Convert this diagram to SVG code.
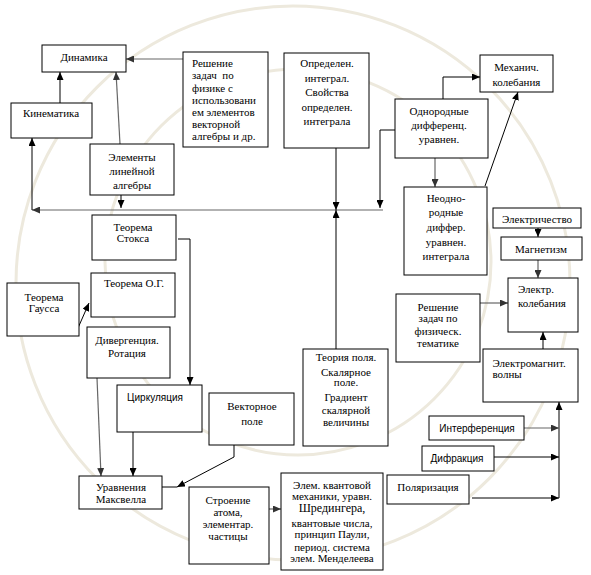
<svg xmlns="http://www.w3.org/2000/svg" width="591" height="575" viewBox="0 0 591 575" font-family="'Liberation Serif', 'Times New Roman', serif">
<defs>
<marker id="ah" markerUnits="userSpaceOnUse" markerWidth="8" markerHeight="7" refX="8" refY="3.5" orient="auto"><path d="M0,0 L8,3.5 L0,7 z" fill="#000"/></marker>
<marker id="ahg" markerUnits="userSpaceOnUse" markerWidth="8" markerHeight="7" refX="8" refY="3.5" orient="auto"><path d="M0,0 L8,3.5 L0,7 z" fill="#333"/></marker>
<style>
.bg{fill:none;stroke:#ede9dd;stroke-width:3}
.box{fill:#fff;stroke:#000;stroke-width:1}
.t{font-size:11px;fill:#000;text-anchor:middle}
.tl{font-size:11px;fill:#000}
.s{font-family:'Liberation Sans',Arial,sans-serif;font-size:10px;fill:#000;text-anchor:middle}
.c{fill:none;stroke:#000;stroke-width:1}
.g{fill:none;stroke:#666;stroke-width:1.2}
</style>
</defs>
<rect width="591" height="575" fill="#fff"/>
<g id="watermark">
<circle class="bg" cx="293" cy="283" r="277"/>
<circle class="bg" cx="298" cy="262" r="193"/>
</g>
<g id="connectors">
<line class="c" x1="60" y1="103" x2="60" y2="72" marker-end="url(#ah)"/>
<line class="g" x1="120" y1="144" x2="116" y2="72" marker-end="url(#ahg)"/>
<line class="g" x1="183" y1="59" x2="126" y2="59" marker-end="url(#ahg)"/>
<line class="c" x1="121" y1="195" x2="121" y2="208" marker-end="url(#ah)"/>
<line class="g" x1="383" y1="210" x2="32" y2="210" marker-end="url(#ahg)"/>
<line class="c" x1="32" y1="210" x2="32" y2="138" marker-end="url(#ah)"/>
<line class="c" x1="336" y1="148" x2="336" y2="210" marker-end="url(#ah)"/>
<line class="c" x1="336" y1="349" x2="336" y2="210" marker-end="url(#ah)"/>
<polyline class="c" points="395,130 380,130 380,208" marker-end="url(#ah)"/>
<polyline class="c" points="443,99 443,77 480,77" marker-end="url(#ah)"/>
<line class="g" x1="435" y1="158" x2="435" y2="187" marker-end="url(#ahg)"/>
<line class="c" x1="485" y1="186" x2="518" y2="92" marker-end="url(#ah)"/>
<line class="c" x1="538" y1="228" x2="538" y2="237" marker-end="url(#ah)"/>
<line class="g" x1="538" y1="260" x2="538" y2="278" marker-end="url(#ahg)"/>
<line class="g" x1="480" y1="303" x2="508" y2="303" marker-end="url(#ahg)"/>
<line class="c" x1="543" y1="349" x2="543" y2="332" marker-end="url(#ah)"/>
<line class="c" x1="559" y1="498" x2="559" y2="402" marker-end="url(#ah)"/>
<line class="g" x1="524" y1="428" x2="559" y2="428" marker-end="url(#ahg)"/>
<line class="c" x1="494" y1="457" x2="559" y2="457" marker-end="url(#ah)"/>
<line class="c" x1="472" y1="498" x2="559" y2="498" marker-end="url(#ah)"/>
<polyline class="c" points="178,239 190,239 190,385" marker-end="url(#ah)"/>
<line class="c" x1="78" y1="328" x2="89" y2="303" marker-end="url(#ah)"/>
<line class="g" x1="97" y1="378" x2="101" y2="476" marker-end="url(#ahg)"/>
<line class="c" x1="133" y1="432" x2="133" y2="476" marker-end="url(#ah)"/>
<polyline class="c" points="234,445 234,457 177,487" marker-end="url(#ah)"/>
<line class="c" x1="162" y1="487" x2="177" y2="487"/>
<line class="g" x1="269" y1="509" x2="281" y2="509" marker-end="url(#ahg)"/>
</g>
<g id="dinamika"><rect class="box" x="42" y="45" width="84" height="27"/><text class="t" x="84" y="60.5">Динамика</text></g>
<g id="kinematika"><rect class="box" x="11" y="103" width="81" height="35"/><text class="t" x="51" y="117">Кинематика</text></g>
<g id="elementy"><rect class="box" x="90" y="144" width="84" height="51"/><text class="t" x="132" y="161">Элементы</text><text class="t" x="132" y="174.5">линейной</text><text class="t" x="132" y="188.5">алгебры</text></g>
<g id="reshenie1"><rect class="box" x="183" y="52" width="85" height="95"/>
<text class="tl" x="192" y="67">Решение</text><text class="tl" x="192" y="79" xml:space="preserve">задач  по</text><text class="tl" x="192" y="91.5">физике с</text><text class="tl" x="192" y="104">использовани</text><text class="tl" x="192" y="116">ем элементов</text><text class="tl" x="192" y="128">векторной</text><text class="tl" x="192" y="140">алгебры и др.</text></g>
<g id="opredelen"><rect class="box" x="284" y="53" width="85" height="95"/>
<text class="t" x="327" y="67">Определен.</text><text class="t" x="327" y="82">интеграл.</text><text class="t" x="327" y="96">Свойства</text><text class="t" x="327" y="111">определен.</text><text class="t" x="327" y="125">интеграла</text></g>
<g id="mehanich"><rect class="box" x="480" y="55" width="73" height="37"/><text class="t" x="516.5" y="70.5">Механич.</text><text class="t" x="516.5" y="85.5">колебания</text></g>
<g id="odnorodnye"><rect class="box" x="395" y="99" width="93" height="59"/><text class="t" x="439" y="114.5">Однородные</text><text class="t" x="439" y="129">дифференц.</text><text class="t" x="439" y="143">уравнен.</text></g>
<g id="neodno"><rect class="box" x="404" y="187" width="83" height="88"/><text class="t" x="446" y="202">Неодно-</text><text class="t" x="446" y="216">родные</text><text class="t" x="446" y="230.5">диффер.</text><text class="t" x="446" y="245.5">уравнен.</text><text class="t" x="446" y="260">интеграла</text></g>
<g id="elektrichestvo"><rect class="box" x="493" y="208" width="88" height="20"/><text class="t" x="537" y="222.5">Электричество</text></g>
<g id="magnetizm"><rect class="box" x="501" y="237" width="81" height="23"/><text class="t" x="541" y="253">Магнетизм</text></g>
<g id="elektr-kolebania"><rect class="box" x="508" y="278" width="70" height="54"/><text class="tl" x="518" y="293">Электр.</text><text class="tl" x="518" y="307">колебания</text></g>
<g id="reshenie2"><rect class="box" x="396" y="294" width="84" height="68"/><text class="t" x="438" y="310.5">Решение</text><text class="t" x="438" y="322">задач по</text><text class="t" x="438" y="335">физическ.</text><text class="t" x="438" y="347">тематике</text></g>
<g id="elektromagnit"><rect class="box" x="483" y="349" width="95" height="53"/><text class="tl" x="492.5" y="366.5">Электромагнит.</text><text class="tl" x="492.5" y="378">волны</text></g>
<g id="interferencia"><rect class="box" x="429" y="416" width="95" height="24"/><text class="s" x="477" y="432">Интерференция</text></g>
<g id="difrakcia"><rect class="box" x="422" y="446" width="72" height="25"/><text class="s" x="457" y="461.5">Дифракция</text></g>
<g id="polarizacia"><rect class="box" x="387" y="475" width="82" height="29"/><text class="t" x="428" y="490.5">Поляризация</text></g>
<g id="kvant"><rect class="box" x="281" y="473" width="102" height="97"/>
<text class="t" x="332" y="489">Элем. квантовой</text><text class="t" x="332" y="500">механики, уравн.</text><text class="t" x="332" y="511.5" style="font-size:12px">Шредингера,</text><text class="t" x="332" y="526.5">квантовые числа,</text><text class="t" x="332" y="538">принцип Паули,</text><text class="t" x="332" y="550.5">период. система</text><text class="t" x="332" y="562">элем. Менделеева</text></g>
<g id="teoria-polya"><rect class="box" x="303" y="349" width="85" height="97"/>
<text class="t" x="346" y="360.5">Теория поля.</text><text class="t" x="346" y="375.5">Скалярное</text><text class="t" x="346" y="386">поле.</text><text class="t" x="346" y="400.5">Градиент</text><text class="t" x="346" y="414">скалярной</text><text class="t" x="346" y="425.5">величины</text></g>
<g id="stoksa"><rect class="box" x="92" y="215" width="84" height="45"/><text class="t" x="133" y="230.5">Теорема</text><text class="t" x="133" y="242">Стокса</text></g>
<g id="og"><rect class="box" x="91" y="273" width="84" height="44"/><text class="t" x="134" y="286.5">Теорема О.Г.</text></g>
<g id="gaussa"><rect class="box" x="7" y="283" width="72" height="53"/><text class="t" x="44" y="300.5">Теорема</text><text class="t" x="44" y="312">Гаусса</text></g>
<g id="divergencia"><rect class="box" x="87" y="327" width="83" height="51"/><text class="t" x="127" y="344">Дивергенция.</text><text class="t" x="127" y="356.5">Ротация</text></g>
<g id="cirkulacia"><rect class="box" x="117" y="385" width="85" height="47"/><text class="s" x="155" y="400.5">Циркуляция</text></g>
<g id="vektornoe"><rect class="box" x="209" y="393" width="85" height="52"/><text class="t" x="252" y="410">Векторное</text><text class="t" x="252" y="424.5">поле</text></g>
<g id="maxwell"><rect class="box" x="79" y="476" width="83" height="33"/><text class="t" x="121" y="491">Уравнения</text><text class="t" x="121" y="503">Максвелла</text></g>
<g id="stroenie"><rect class="box" x="189" y="487" width="80" height="77"/><text class="t" x="228" y="504">Строение</text><text class="t" x="228" y="515.5">атома,</text><text class="t" x="228" y="528">элементар.</text><text class="t" x="228" y="540">частицы</text></g>
</svg>
